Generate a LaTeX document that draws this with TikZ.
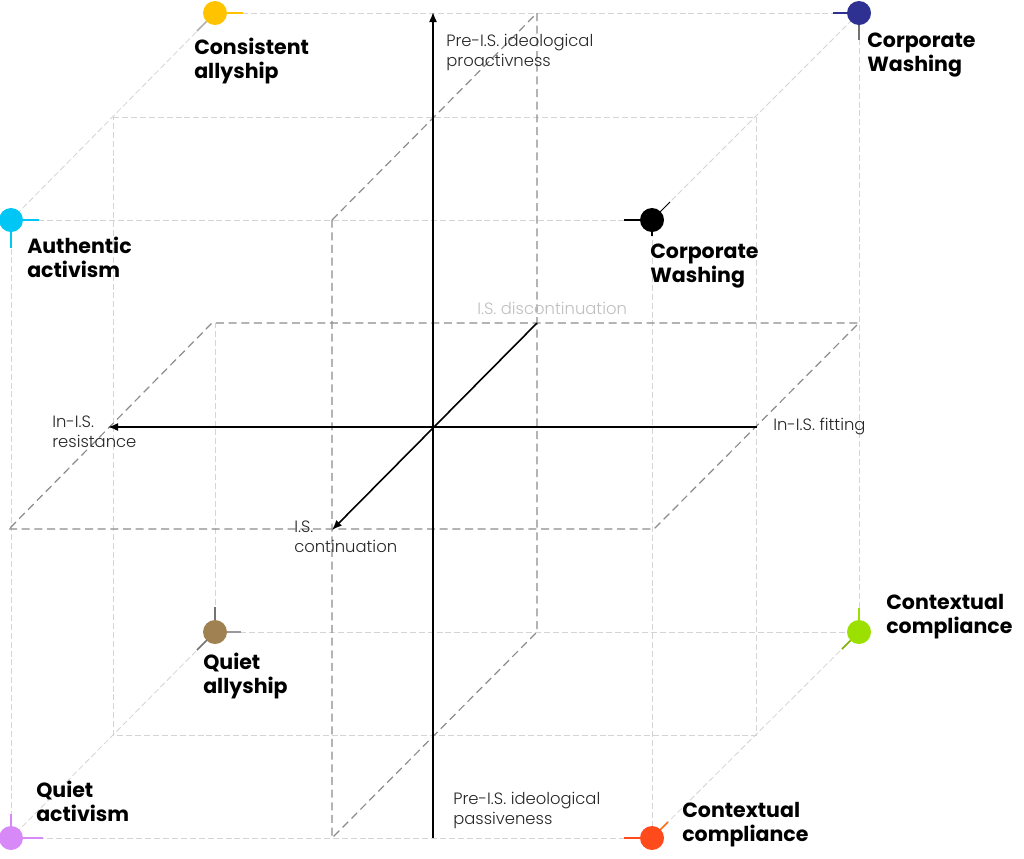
\documentclass[tikz,border=0pt]{standalone}
\usepackage{fontspec}
\setmainfont{Poppins}
\newfontfamily\lightf{Poppins Light}
\usetikzlibrary{arrows.meta}
\definecolor{cyel}{HTML}{FFC300}
\definecolor{cblu}{HTML}{2E3192}
\definecolor{ccya}{HTML}{00C6F6}
\definecolor{cbrn}{HTML}{A08252}
\definecolor{cgrn}{HTML}{9BE000}
\definecolor{cpur}{HTML}{D78AF7}
\definecolor{cred}{HTML}{FF4A1C}
\begin{document}
\begin{tikzpicture}[x=0.75pt,y=-0.75pt,
  lite/.style={draw=black!17, line width=0.6pt, dash pattern=on 4.5pt off 2.2pt},
  dark/.style={draw=black!45, line width=0.9pt, dash pattern=on 6pt off 3.5pt},
  axis/.style={draw=black, line width=1.2pt},
  tip/.style={-{Latex[length=7.5pt,width=6pt]}},
  dot/.style={circle, inner sep=0pt, minimum size=18pt},
  blab/.style={anchor=north west, inner sep=0pt, align=left, font=\bfseries\fontsize{15.4}{18}\selectfont},
  tlab/.style={anchor=north west, inner sep=0pt, align=left, text=black!85, font=\lightf\fontsize{12.3}{15}\selectfont},
  tick/.style={line width=1.1pt}]
\useasboundingbox (0,0) rectangle (1024,858);
% cube corners
\coordinate (F1) at (11,220); \coordinate (F2) at (652,220);
\coordinate (F3) at (652,838); \coordinate (F4) at (11,838);
\coordinate (B1) at (215,13); \coordinate (B2) at (859,13);
\coordinate (B3) at (859,632); \coordinate (B4) at (215,632);
\coordinate (M1) at (113,117); \coordinate (M2) at (756,117);
\coordinate (M3) at (756,735); \coordinate (M4) at (113,735);
\coordinate (B4t) at (215,323);
% horizontal plane
\coordinate (H1) at (9,529); \coordinate (H2) at (654,529);
\coordinate (H3) at (859,323); \coordinate (H4) at (212,323);
% vertical plane
\coordinate (V1) at (332,220); \coordinate (V2) at (537,13);
\coordinate (V3) at (537,632); \coordinate (V4) at (332,838);
% axes ends
\coordinate (AYb) at (433,838); \coordinate (AYt) at (433,12);
\coordinate (AXr) at (757,427); \coordinate (AXl) at (108,427);
\coordinate (AZb) at (537,323); \coordinate (AZf) at (332,530);
% light cube
\draw[lite] (F1) -- (F2) -- (F3) -- (F4) -- cycle;
\draw[lite] (B1) -- (B2) -- (B3) -- (B4);
\draw[lite] (B4) -- (B4t);
\draw[lite] (M1) -- (M2) -- (M3) -- (M4) -- cycle;
\draw[lite] (B1) -- (F1);
\draw[lite] (B2) -- (F2);
\draw[lite] (B3) -- (F3);
\draw[lite] (B4) -- (F4);
% dark planes
\draw[dark] (H1) -- (H2) -- (H3) -- (H4) -- cycle;
\draw[dark] (V1) -- (V2) -- (V3) -- (V4) -- cycle;
% axes
\draw[axis,tip] (AYb) -- (AYt);
\draw[axis,tip] (AXr) -- (AXl);
\draw[axis,tip] (AZb) -- (AZf);
% ticks
\draw[tick,cyel] (B1) -- ++(28,0);
\draw[tick,black!30] (B1) -- ++(-18,18);
\draw[tick,cblu] (B2) -- ++(-26,0);
\draw[tick,black!55] (B2) -- ++(0,27);
\draw[tick,ccya] (F1) -- ++(28,0);
\draw[tick,ccya] (F1) -- ++(0,28);
\draw[tick,black] (F2) -- ++(-28,0);
\draw[tick,black] (F2) -- ++(0,16);
\draw[line width=0.7pt,black] (F2) -- ++(18,-18);
\draw[tick,black!55] (B4) -- ++(0,-25);
\draw[tick,black!40] (B4) -- ++(26,0);
\draw[tick,black!55] (B4) -- ++(-18,18);
\draw[tick,cgrn] (B3) -- ++(0,-24);
\draw[tick,cgrn!80!black] (B3) -- ++(-17,17);
\draw[tick,cpur] (F4) -- ++(32,0);
\draw[tick,cpur] (F4) -- ++(0,-24);
\draw[tick,cred] (F3) -- ++(-28,0);
\draw[tick,cred!70!cyel] (F3) -- ++(16,-16);
% dots
\node[dot,fill=cyel] (dcons) at (B1) {};
\node[dot,fill=cblu] (dcorpb) at (B2) {};
\node[dot,fill=ccya] (dauth) at (F1) {};
\node[dot,fill=black] (dcorpk) at (F2) {};
\node[dot,fill=cbrn] (dqall) at (B4) {};
\node[dot,fill=cgrn] (dctxg) at (B3) {};
\node[dot,fill=cpur] (dqact) at (F4) {};
\node[dot,fill=cred] (dctxr) at (F3) {};
% bold labels
\node[blab] (lcons) at (194,38) {Consistent\\allyship};
\node[blab] (lcorpb) at (867,33) {Corporate\\Washing};
\node[blab] (lauth) at (27,237) {Authentic\\activism};
\node[blab] (lcorpk) at (650,244) {Corporate\\Washing};
\node[blab] (lctxg) at (886,594) {Contextual\\compliance};
\node[blab] (lqall) at (203,653) {Quiet\\allyship};
\node[blab] (lqact) at (36,781) {Quiet\\activism};
\node[blab] (lctxr) at (682,802) {Contextual\\compliance};
% thin labels
\node[tlab] (lpro) at (446,34) {Pre-I.S. ideological\\proactivness};
\node[tlab,text=black!25] (ldis) at (477,302) {I.S. discontinuation};
\node[tlab] (lres) at (52,416) {In-I.S.\\resistance};
\node[tlab] (lcon) at (294,521) {I.S.\\continuation};
\node[tlab] (lfit) at (773,418) {In-I.S. fitting};
\node[tlab] (lpas) at (453,792) {Pre-I.S. ideological\\passiveness};
\end{tikzpicture}
\end{document}
